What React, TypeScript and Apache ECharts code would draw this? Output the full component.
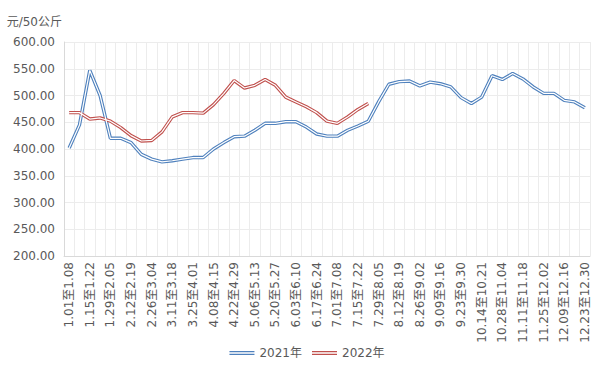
import React, { useEffect, useRef } from "react";
import * as echarts from "echarts";

const categories: string[] = [
  "1.01至1.08", "1.08至1.15", "1.15至1.22", "1.22至1.29", "1.29至2.05", "2.05至2.12",
  "2.12至2.19", "2.19至2.26", "2.26至3.04", "3.04至3.11", "3.11至3.18", "3.18至3.25",
  "3.25至4.01", "4.01至4.08", "4.08至4.15", "4.15至4.22", "4.22至4.29", "4.29至5.06",
  "5.06至5.13", "5.13至5.20", "5.20至5.27", "5.27至6.03", "6.03至6.10", "6.10至6.17",
  "6.17至6.24", "6.24至7.01", "7.01至7.08", "7.08至7.15", "7.15至7.22", "7.22至7.29",
  "7.29至8.05", "8.05至8.12", "8.12至8.19", "8.19至8.26", "8.26至9.02", "9.02至9.09",
  "9.09至9.16", "9.16至9.23", "9.23至9.30", "9.30至10.14", "10.14至10.21", "10.21至10.28",
  "10.28至11.04", "11.04至11.11", "11.11至11.18", "11.18至11.25", "11.25至12.02", "12.02至12.09",
  "12.09至12.16", "12.16至12.23", "12.23至12.30",
];

const values2021: number[] = [
  402, 445, 547, 500, 420, 420, 412, 390, 381, 376,
  378, 381, 384, 384, 400, 412, 423, 424, 435, 448,
  448, 451, 451, 441, 428, 424, 424, 435, 443, 452,
  488, 521, 526, 527, 518, 525, 522, 516, 496, 485,
  497, 537, 530, 541, 531, 516, 504, 504, 491, 488,
  477,
];

const values2022: number[] = [
  468, 468, 456, 458, 452, 440, 425, 415, 416, 432,
  460, 468, 468, 467, 483, 504, 528, 514, 519, 530,
  519, 497, 488, 479, 468, 452, 448, 460, 474, 485,
];

const seriesNames = ["2021年", "2022年"];
const yUnit = "元/50公斤";

const BLUE = "#4f81bd";
const RED = "#c0504d";
const FONT = "'DejaVu Sans', 'Noto Sans CJK SC', sans-serif";

export default function App() {
  const ref = useRef<HTMLDivElement>(null);
  useEffect(() => {
    if (!ref.current) return;
    const chart = echarts.init(ref.current, undefined, { renderer: "svg" });
    const outer = (name: string, data: number[], color: string) => ({
      name,
      type: "line",
      data,
      symbol: "none",
      lineStyle: { color, width: 3.4 },
      itemStyle: { color },
      z: 2,
    });
    const inner = (data: number[]) => ({
      name: "_inner",
      type: "line",
      data,
      symbol: "none",
      silent: true,
      lineStyle: { color: "#ffffff", width: 1.2 },
      itemStyle: { color: "#ffffff" },
      z: 3,
    });
    chart.setOption({
      animation: false,
      textStyle: { fontFamily: FONT },
      grid: { left: 64, right: 24, top: 42, height: 214 },
      legend: {
        data: seriesNames,
        top: 342,
        left: "center",
        icon: "path://M0,0H25V1.3H0Z M0,2.7H25V4H0Z",
        itemWidth: 25,
        itemHeight: 4,
        itemGap: 10,
        textStyle: { color: "#595959", fontSize: 12, fontFamily: FONT },
      },
      xAxis: {
        type: "category",
        data: categories,
        boundaryGap: true,
        axisLine: { show: true, lineStyle: { color: "#d9d9d9" } },
        axisTick: { show: false },
        axisLabel: {
          interval: 1,
          rotate: 90,
          color: "#595959",
          fontSize: 12,
          fontFamily: FONT,
          margin: 6,
        },
        splitLine: { show: true, interval: 0, lineStyle: { color: "#ececec" } },
      },
      yAxis: {
        type: "value",
        min: 200,
        max: 600,
        interval: 50,
        name: yUnit,
        nameLocation: "end",
        nameGap: 14,
        nameTextStyle: { color: "#595959", fontSize: 12, align: "right", padding: [0, 2, 0, 0] },
        axisLine: { show: true, lineStyle: { color: "#d9d9d9" } },
        axisTick: { show: false },
        axisLabel: {
          color: "#595959",
          fontSize: 12,
          fontFamily: FONT,
          margin: 9,
          formatter: (v: number) => v.toFixed(2),
        },
        splitLine: { show: true, lineStyle: { color: "#ececec" } },
      },
      series: [
        outer(seriesNames[0], values2021, BLUE),
        outer(seriesNames[1], values2022, RED),
        inner(values2021),
        inner(values2022),
      ],
    });
    return () => chart.dispose();
  }, []);
  return <div ref={ref} style={{ width: 614, height: 365, position: "absolute", left: 0, top: 0 }} />;
}
